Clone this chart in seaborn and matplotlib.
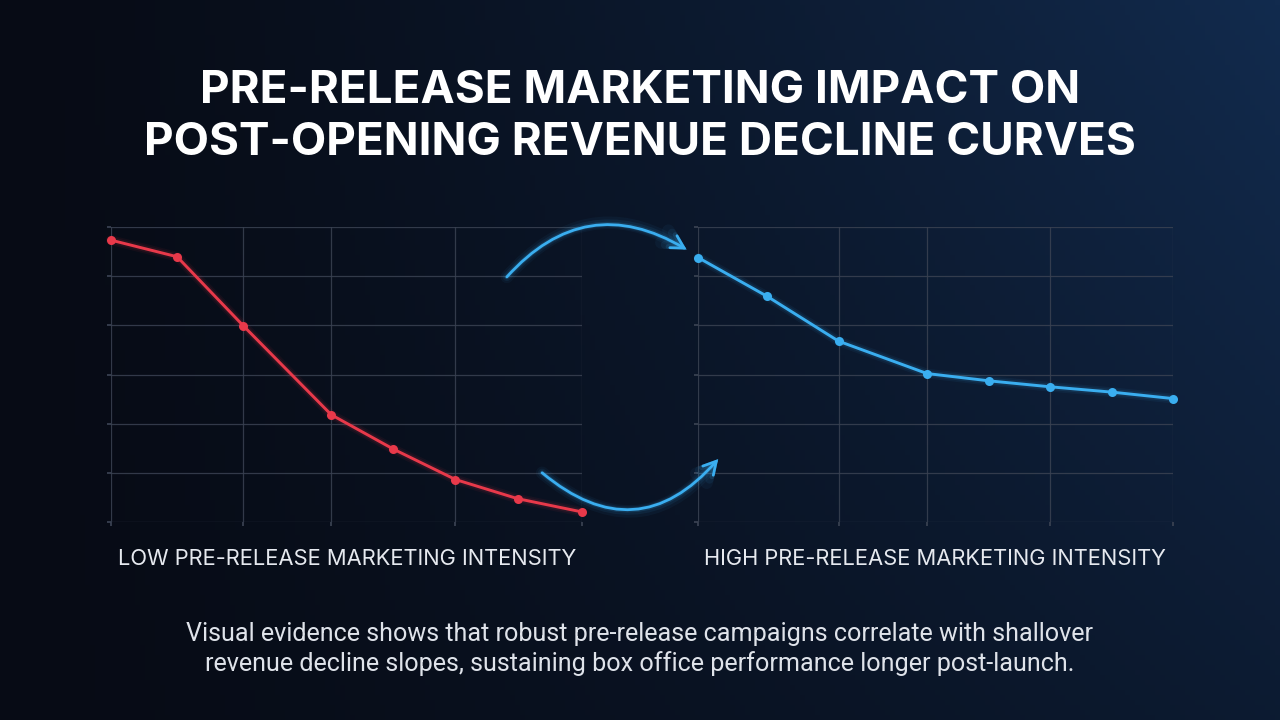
import numpy as np
import pandas as pd
import seaborn as sns
import matplotlib.pyplot as plt
from matplotlib.patches import FancyArrowPatch

# revenue index (grid units 0-6), days since opening
low_days = [0, 3.1, 6.2, 10.3, 13.2, 16.1, 19.0, 22]
low_rev = [5.74, 5.40, 3.99, 2.18, 1.48, 0.86, 0.47, 0.20]
high_days = [0, 3.2, 6.5, 10.6, 13.5, 16.3, 19.2, 22]
high_rev = [5.38, 4.59, 3.68, 3.02, 2.87, 2.75, 2.64, 2.51]
tick_idx = [0, 2, 3, 5, 7]

title = "PRE-RELEASE MARKETING IMPACT ON\nPOST-OPENING REVENUE DECLINE CURVES"
low_label = "LOW PRE-RELEASE MARKETING INTENSITY"
high_label = "HIGH PRE-RELEASE MARKETING INTENSITY"
caption = ("Visual evidence shows that robust pre-release campaigns correlate with shallover\n"
           "revenue decline slopes, sustaining box office performance longer post-launch.")

red = "#e8394a"
blue = "#3aaef0"
grid_col = "#3a4252"

sns.set_theme(style="dark")
plt.rcParams['font.family'] = ['Inter', 'DejaVu Sans']

fig = plt.figure(figsize=(12.8, 7.2), dpi=100)

# background gradient
bg = fig.add_axes([0, 0, 1, 1])
gx, gy = np.meshgrid(np.linspace(0, 1, 256), np.linspace(0, 1, 144))
f = np.clip(gx ** 1.3 * (1 - 0.5 * gy), 0, 1)[..., None]
dark = np.array([7, 11, 21]) / 255
light = np.array([18, 43, 78]) / 255
bg.imshow(dark + (light - dark) * f, aspect='auto', extent=[0, 1, 0, 1], origin='upper')
bg.set_axis_off()

ax1 = fig.add_axes([0.0865, 0.2754, 0.368, 0.4089])
ax2 = fig.add_axes([0.5456, 0.2754, 0.3706, 0.4089])

panels = [
    (ax1, pd.DataFrame({"day": low_days, "rev": low_rev}), red),
    (ax2, pd.DataFrame({"day": high_days, "rev": high_rev}), blue),
]
for ax, df, col in panels:
    ax.set_facecolor("none")
    for lw, a in [(7, 0.06), (4.5, 0.1)]:
        ax.plot(df["day"], df["rev"], color=col, lw=lw, alpha=a, solid_capstyle='round')
    sns.lineplot(data=df, x="day", y="rev", ax=ax, color=col, lw=2.1,
                 marker="o", markersize=6.5, markeredgewidth=0, clip_on=False)
    ax.set_xlim(df["day"].min(), df["day"].max())
    ax.set_ylim(0, 6)
    ax.set_xticks([df["day"][i] for i in tick_idx])
    ax.set_yticks(range(7))
    ax.grid(True, color=grid_col, lw=0.9, alpha=0.85)
    ax.tick_params(axis='both', length=3, color=grid_col, labelbottom=False, labelleft=False,
                   bottom=True, left=True)
    ax.set_xlabel("")
    ax.set_ylabel("")
    for s in ax.spines.values():
        s.set_visible(False)
    for ln in ax.lines:
        ln.set_clip_on(False)

fig.text(0.5, 0.838, title, ha='center', va='center', color='white', fontsize=33,
         fontweight='bold', linespacing=1.3)
fig.text(347 / 1280, 1 - 559 / 720, low_label, ha='center', va='center', color='#e6e9ef',
         fontsize=15.8)
fig.text(935 / 1280, 1 - 559 / 720, high_label, ha='center', va='center', color='#e6e9ef',
         fontsize=15.8)
fig.text(0.5, 1 - 649 / 720, caption, ha='center', va='center', color='#dfe3ea',
         fontsize=18.1, linespacing=1.27, family=['Roboto', 'DejaVu Sans'])


# curved glowing arrows between the panels
def px(x, y):
    return (x / 1280, 1 - y / 720)


arrows = [(px(505, 279), px(689, 251), -0.42), (px(540, 471), px(720, 457), 0.5)]
for start, end, rad in arrows:
    for lw, a in [(9, 0.05), (6, 0.08), (3.5, 0.15), (2.0, 1.0)]:
        arr = FancyArrowPatch(start, end, transform=fig.transFigure,
                              connectionstyle=f"arc3,rad={rad}",
                              arrowstyle="->,head_length=9,head_width=5",
                              color=blue, lw=lw, alpha=a, capstyle='round', joinstyle='miter')
        fig.patches.append(arr)

fig.savefig("out.png", dpi=100)
